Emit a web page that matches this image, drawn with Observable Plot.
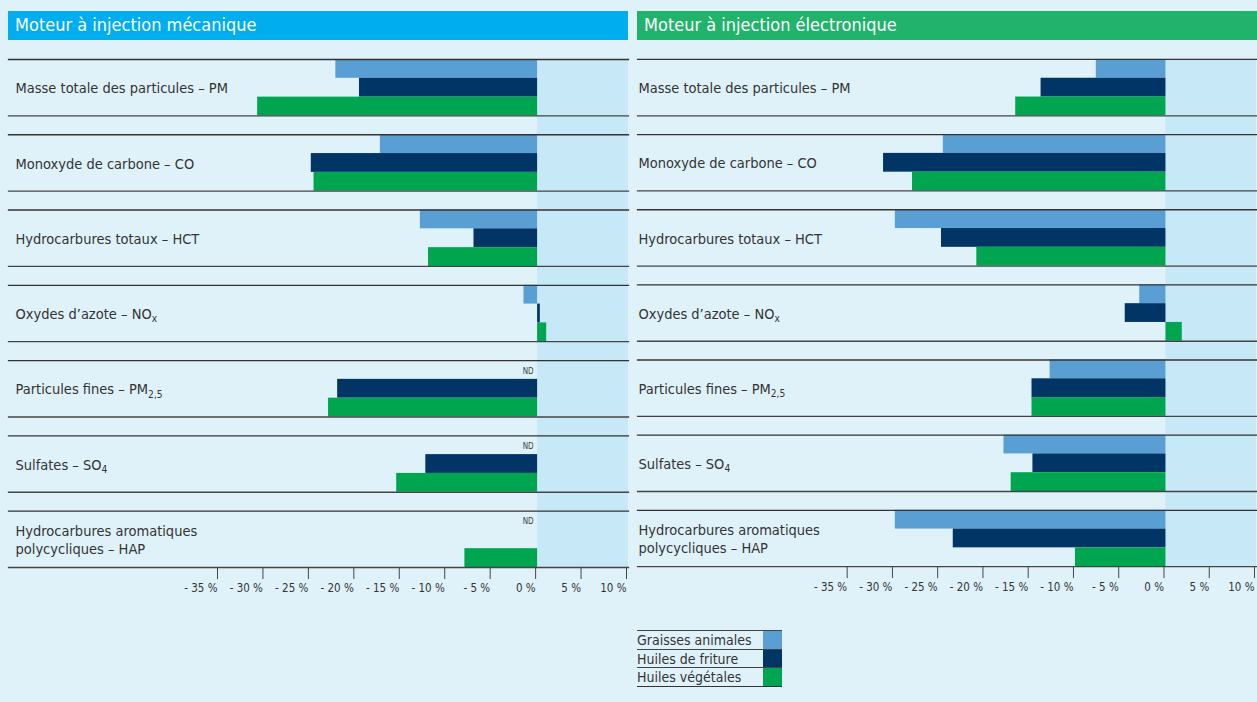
<!DOCTYPE html>
<html>
<head>
<meta charset="utf-8">
<script src="https://cdn.jsdelivr.net/npm/d3@7"></script>
<script src="https://cdn.jsdelivr.net/npm/@observablehq/plot@0.6"></script>
<style>
  html, body { margin: 0; padding: 0; background: #dff2fa; overflow: hidden; }
  #root { position: relative; width: 1257px; height: 702px; background: #dff2fa;
          font-family: "DejaVu Sans Condensed", "DejaVu Sans", sans-serif; font-stretch: condensed; color: #333; }
  .header { position: absolute; top: 11px; height: 29px; line-height: 28px; color: #fff;
            font-size: 18px; padding-left: 7px; box-sizing: border-box; }
  .panel { position: absolute; top: 40px; }
  #legend { position: absolute; left: 637px; top: 630px; width: 145px; }
  .lrow { position: relative; height: 18.7px; border-top: 1.3px solid #444; box-sizing: border-box;
          font-size: 14px; line-height: 18px; color: #333; }
  .lrow:last-child { border-bottom: 1.3px solid #333; height: 20px; }
  .sw { position: absolute; right: 0; top: 0; width: 19px; height: 100%; }
</style>
</head>
<body>
<div id="root"></div>
<script>
// ---------------- data ----------------
const panelTitles = ["Moteur à injection mécanique", "Moteur à injection électronique"];
const panelColors = ["#00aeef", "#21b36c"];
const categories = [
  "Masse totale des particules – PM",
  "Monoxyde de carbone – CO",
  "Hydrocarbures totaux – HCT",
  "Oxydes d’azote – NO_{x}",
  "Particules fines – PM_{2,5}",
  "Sulfates – SO_{4}",
  "Hydrocarbures aromatiques\npolycycliques – HAP"
];
const series = ["Graisses animales", "Huiles de friture", "Huiles végétales"];
const seriesColors = ["#5a9fd4", "#003566", "#00a54f"];

// Moteur à injection mécanique (% variation), null = non disponible
const mecaGraisses  = [-22.2, -17.3, -12.9, -1.5, null, null, null];
const mecaFriture   = [-19.6, -24.9,  -7.0,  0.3, -22.0, -12.3, null];
const mecaVegetales = [-30.8, -24.6, -12.0,  1.0, -23.0, -15.5, -8.0];
// catégories marquées « ND » (Graisses animales)
const mecaND = [categories[4], categories[5], categories[6]];

// Moteur à injection électronique
const elecGraisses  = [-7.7, -24.6, -29.9, -2.9, -12.8, -17.9, -29.9];
const elecFriture   = [-13.8, -31.2, -24.8, -4.5, -14.8, -14.7, -23.5];
const elecVegetales = [-16.6, -28.0, -20.9,  1.8, -14.8, -17.1, -10.0];
const elecND = [];

const xTicks = [-35, -30, -25, -20, -15, -10, -5, 0, 5, 10];
const tickFormat = d => d < 0 ? `- ${-d} %` : `${d} %`;
const ndText = "ND";
const positiveZone = [0, 10];

// ---------------- drawing ----------------
const FONT = "'DejaVu Sans Condensed', 'DejaVu Sans', sans-serif";
const root = document.getElementById("root");

const H = 567, MT = 19, MB = 40, FY_PAD = 0.25;
const frameH = H - MT - MB;
const facetGap = frameH / (categories.length - FY_PAD) * FY_PAD;

function makeRows(cols) {
  const rows = [];
  categories.forEach((c, i) => series.forEach((s, j) => {
    const v = cols[j][i];
    if (v != null) rows.push({cat: c, series: s, value: v});
  }));
  return rows;
}

function applySubscripts(svg) {
  svg.querySelectorAll("text, tspan").forEach(el => {
    if (el.children.length) return;
    const m = el.textContent.match(/^([\s\S]*)_\{(.+)\}$/);
    if (!m) return;
    el.textContent = m[1];
    const ts = document.createElementNS("http://www.w3.org/2000/svg", "tspan");
    ts.setAttribute("dy", "0.32em");
    ts.setAttribute("style", "font-size:70%");
    ts.textContent = m[2];
    el.appendChild(ts);
  });
}

function panel(cols, nd, left, marginLeft, labelX) {
  const rows = makeRows(cols);
  const ndRows = nd.map(c => ({cat: c, series: series[0]}));
  const zone = categories.map(c => ({cat: c, a: positiveZone[0], b: positiveZone[1]}));
  const svg = Plot.plot({
    width: 621,
    height: H,
    marginLeft,
    marginRight: 1,
    marginTop: MT,
    marginBottom: MB,
    style: `background: transparent; font-family: ${FONT}; font-stretch: condensed; overflow: visible; color: #333;`,
    x: {domain: [-35, 10]},
    y: {domain: series, paddingInner: 0, paddingOuter: 0, round: false, axis: null},
    fy: {domain: categories, paddingInner: FY_PAD, paddingOuter: 0, round: false, axis: null, label: null},
    color: {domain: series, range: seriesColors},
    marks: [
      Plot.rect(zone.slice(0, 1), {x1: "a", x2: "b", fy: "cat", fill: "#c6e8f7"}),
      Plot.rect(zone.slice(1), {x1: "a", x2: "b", fy: "cat", fill: "#c6e8f7", insetTop: -facetGap - 0.5}),
      Plot.barX(rows, {x: "value", y: "series", fy: "cat", fill: "series"}),
      Plot.frame({anchor: "top", stroke: "#333", strokeWidth: 1.3, insetLeft: -marginLeft}),
      Plot.frame({anchor: "bottom", stroke: "#444", strokeWidth: 1.3, insetLeft: -marginLeft}),
      Plot.text(categories, {fy: d => d, text: d => d, frameAnchor: "left", textAnchor: "start",
        dx: labelX - marginLeft, fontSize: 14.5, lineHeight: 1.22, fill: "#333"}),
      Plot.text(ndRows, {x: () => 0, y: "series", fy: "cat", text: () => ndText, textAnchor: "end",
        dx: -4, dy: 1, fontSize: 8, fill: "#444"}),
      Plot.axisX({ticks: xTicks, tickFormat, tickSize: 12, tickPadding: 4, textAnchor: "end", dx: -2,
        fontSize: 11.5, stroke: "#444", fill: "#333", label: null})
    ]
  });
  applySubscripts(svg);
  const wrap = document.createElement("div");
  wrap.className = "panel";
  wrap.style.left = left + "px";
  wrap.appendChild(svg);
  root.appendChild(wrap);
}

// headers
[[8, 0], [637, 1]].forEach(([x, i]) => {
  const h = document.createElement("div");
  h.className = "header";
  h.style.left = x + "px";
  h.style.width = "620px";
  h.style.background = panelColors[i];
  h.textContent = panelTitles[i];
  root.appendChild(h);
});

panel([mecaGraisses, mecaFriture, mecaVegetales], mecaND, 8, 211, 7);
panel([elecGraisses, elecFriture, elecVegetales], elecND, 637, 212, 1);

// legend
const legend = document.createElement("div");
legend.id = "legend";
series.forEach((s, i) => {
  const r = document.createElement("div");
  r.className = "lrow";
  r.textContent = s;
  const sw = document.createElement("div");
  sw.className = "sw";
  sw.style.background = seriesColors[i];
  r.appendChild(sw);
  legend.appendChild(r);
});
root.appendChild(legend);
</script>
</body>
</html>
